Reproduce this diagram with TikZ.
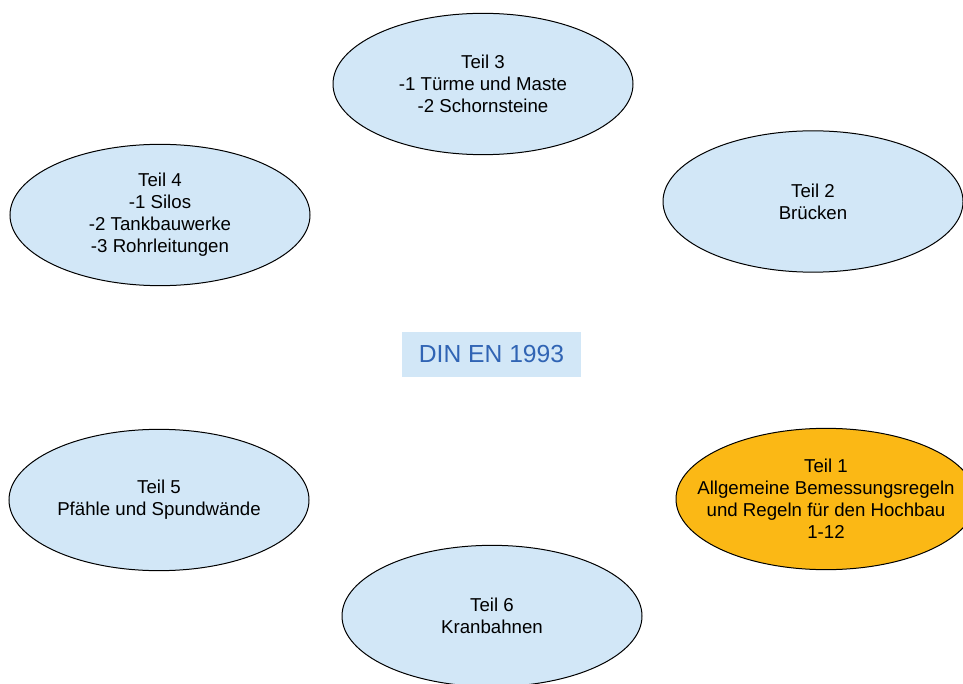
\documentclass[tikz,border=0pt]{standalone}
\usepackage{fontspec}
\setmainfont{Liberation Sans}
\usepackage{tikz}
\usetikzlibrary{shapes.geometric,positioning}
\usepackage{xcolor}
\definecolor{paleblue}{RGB}{210,231,247}
\definecolor{titleblue}{RGB}{48,100,180}
\definecolor{amber}{RGB}{251,184,21}

\tikzset{
  teil/.style={ellipse, draw=black, line width=0.75pt, fill=paleblue,
    minimum width=225pt, minimum height=106pt, inner sep=0pt, align=center,
    font=\fontsize{14}{16.5}\selectfont},
  title/.style={fill=paleblue, text=titleblue, minimum width=134pt,
    minimum height=34pt, inner sep=0pt, font=\fontsize{18.5}{21}\selectfont}
}

\begin{document}
\begin{tikzpicture}[x=0.75pt, y=-0.75pt]
    % Frame
    \useasboundingbox (0,0) rectangle (963,684);
    \clip (0,0) rectangle (963,684);

    % Centre
    \node[title] (din) at (491.5,354.5) {DIN EN 1993};

    % Parts
    \node[teil, fill=amber, inner xsep=-20pt] (teil1) at (826,499) {Teil 1\\Allgemeine Bemessungsregeln\\und Regeln f\"ur den Hochbau\\1-12};
    \node[teil] (teil2) at (813,201.5) {Teil 2\\Br\"ucken};
    \node[teil] (teil3) at (483,84) {Teil 3\\-1 T\"urme und Maste\\-2 Schornsteine};
    \node[teil] (teil4) at (160,215) {Teil 4\\-1 Silos\\-2 Tankbauwerke\\-3 Rohrleitungen};
    \node[teil] (teil5) at (159,500) {Teil 5\\Pf\"ahle und Spundw\"ande};
    \node[teil] (teil6) at (492,616) {Teil 6\\Kranbahnen};
\end{tikzpicture}
\end{document}
